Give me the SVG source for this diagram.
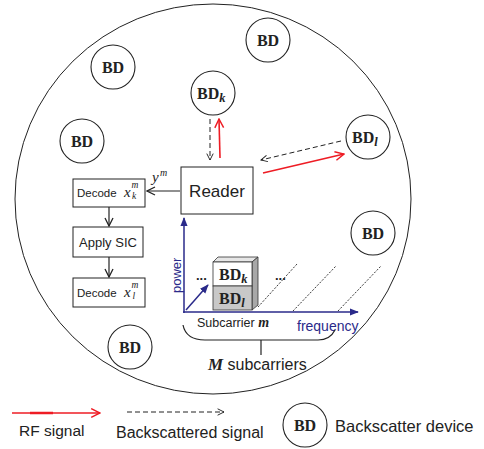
<svg xmlns="http://www.w3.org/2000/svg" width="484" height="449" viewBox="0 0 484 449">
<defs>
<style>
.bd{fill:#fff;stroke:#222;stroke-width:1.1}
.bdt{font-family:"Liberation Serif",serif;font-weight:bold;font-size:16px;fill:#222}
.sub{font-family:"Liberation Serif",serif;font-weight:bold;font-style:italic;font-size:12.5px;fill:#222}
.box{fill:#fff;stroke:#222;stroke-width:1}
.sans{font-family:"Liberation Sans",Arial,sans-serif;fill:#222}
.mi{font-family:"Liberation Serif",serif;font-style:italic;fill:#222}
.blk{stroke:#222;stroke-width:1.2;fill:none}
.dash{stroke:#222;stroke-width:1;fill:none;stroke-dasharray:5,3}
.red{stroke:#ee1c24;stroke-width:1.6;fill:none}
.blue{stroke:#2a2a8a;stroke-width:1.5;fill:none}
.dot{stroke:#222;stroke-width:0.9;fill:none;stroke-dasharray:2,1.5}
</style>
<marker id="ak" viewBox="0 0 10 10" refX="9" refY="5" markerWidth="10" markerHeight="10" markerUnits="userSpaceOnUse" orient="auto"><path d="M1,1 L9,5 L1,9" fill="none" stroke="#222" stroke-width="1.3"/></marker>
<marker id="ad" viewBox="0 0 10 10" refX="9" refY="5" markerWidth="8" markerHeight="8" markerUnits="userSpaceOnUse" orient="auto"><path d="M1,1 L9,5 L1,9" fill="none" stroke="#222" stroke-width="1.2"/></marker>
<marker id="ar" viewBox="0 0 10 10" refX="9" refY="5" markerWidth="11" markerHeight="11" markerUnits="userSpaceOnUse" orient="auto"><path d="M1,1 L9,5 L1,9" fill="none" stroke="#ee1c24" stroke-width="1.3"/></marker>
<marker id="ab" viewBox="0 0 10 10" refX="9" refY="5" markerWidth="9" markerHeight="9" markerUnits="userSpaceOnUse" orient="auto"><path d="M0,1 L10,5 L0,9 Z" fill="#2a2a8a"/></marker>
</defs>
<rect width="484" height="449" fill="#fff"/>

<ellipse cx="213" cy="199" rx="198" ry="195" fill="none" stroke="#222" stroke-width="1"/>

<g id="bd1"><circle class="bd" cx="113" cy="67" r="22"/><text class="bdt" x="113" y="73" text-anchor="middle">BD</text></g>
<g id="bd2"><circle class="bd" cx="268" cy="40" r="22"/><text class="bdt" x="268" y="46" text-anchor="middle">BD</text></g>
<g id="bdk"><circle class="bd" cx="213" cy="93" r="22"/><text class="bdt" x="197" y="99">BD<tspan class="sub" dy="3">k</tspan></text></g>
<g id="bdl"><circle class="bd" cx="368" cy="137" r="22"/><text class="bdt" x="352" y="143">BD<tspan class="sub" dy="3">l</tspan></text></g>
<g id="bd3"><circle class="bd" cx="82" cy="141" r="22"/><text class="bdt" x="82" y="147" text-anchor="middle">BD</text></g>
<g id="bd4"><circle class="bd" cx="373" cy="233" r="22"/><text class="bdt" x="373" y="239" text-anchor="middle">BD</text></g>
<g id="bd5"><circle class="bd" cx="130" cy="347" r="22"/><text class="bdt" x="130" y="353" text-anchor="middle">BD</text></g>

<g id="reader"><rect class="box" x="181" y="167" width="72" height="47"/><text class="sans" x="217" y="197" font-size="17" text-anchor="middle">Reader</text></g>
<g id="decodek"><rect class="box" x="73" y="179" width="72" height="28"/><text class="sans" x="77" y="197" font-size="11.5">Decode</text><text class="mi" x="124" y="197" font-size="15">x</text><text class="mi" x="131.5" y="188" font-size="9.5">m</text><text class="mi" x="132" y="199" font-size="9.5">k</text></g>
<g id="sic"><rect class="box" x="73" y="227" width="70" height="30"/><text class="sans" x="108" y="246.5" font-size="13" text-anchor="middle">Apply SIC</text></g>
<g id="decodel"><rect class="box" x="73" y="278" width="72" height="29"/><text class="sans" x="77" y="297" font-size="11.5">Decode</text><text class="mi" x="124" y="297" font-size="15">x</text><text class="mi" x="131.5" y="288" font-size="9.5">m</text><text class="mi" x="132.5" y="299" font-size="9.5">l</text></g>

<g id="ylabel"><text class="mi" x="152" y="182" font-size="15">y</text><text class="mi" x="160" y="176" font-size="10">m</text></g>

<g id="connectors">
<line class="blk" x1="180" y1="191" x2="147" y2="191" marker-end="url(#ak)"/>
<line class="blk" x1="109" y1="207" x2="109" y2="226" marker-end="url(#ak)"/>
<line class="blk" x1="109" y1="257" x2="109" y2="277" marker-end="url(#ak)"/>
<line class="dash" x1="210" y1="119" x2="210" y2="160" marker-end="url(#ad)"/>
<line class="red" x1="220" y1="158" x2="219" y2="119" marker-end="url(#ar)"/>
<line class="dash" x1="341" y1="141" x2="261" y2="160" marker-end="url(#ad)"/>
<line class="red" x1="263" y1="173" x2="344" y2="154" marker-end="url(#ar)"/>
</g>

<g id="chart">
<line class="blue" x1="184" y1="313" x2="184" y2="218" marker-end="url(#ab)"/>
<line class="blue" x1="183" y1="312" x2="358" y2="312" marker-end="url(#ab)"/>
<line class="blue" stroke-width="1.2" x1="186" y1="310" x2="208" y2="285" marker-end="url(#ab)"/>
<text x="0" y="0" font-family="Liberation Sans, Arial, sans-serif" font-size="13" fill="#2a2a8a" transform="translate(181,293) rotate(-90)">power</text>
<line class="dot" x1="258" y1="307" x2="297" y2="264"/>
<line class="dot" x1="293" y1="311" x2="336" y2="266"/>
<line class="dot" x1="338" y1="311" x2="381" y2="266"/>
<g id="cube">
<polygon points="213,262 218,257 258,257 252,262" fill="#e6e6e6" stroke="#333" stroke-width="0.8"/>
<polygon points="252,262 258,257 258,305 252,310" fill="#a8a8a8" stroke="#333" stroke-width="0.8"/>
<rect x="213" y="262" width="39" height="24" fill="#fff" stroke="#333" stroke-width="0.8"/>
<rect x="213" y="286" width="39" height="24" fill="#c8c8c8" stroke="#333" stroke-width="0.8"/>
<text class="bdt" x="219" y="280" font-size="15">BD<tspan class="sub" dy="3">k</tspan></text>
<text class="bdt" x="219" y="304" font-size="15">BD<tspan class="sub" dy="3">l</tspan></text>
</g>
<text class="sans" x="196" y="280" font-size="13" font-weight="bold">...</text>
<text class="sans" x="275" y="280" font-size="13" font-weight="bold">...</text>
<text class="sans" x="197" y="327" font-size="12.5">Subcarrier <tspan class="mi" font-weight="bold" font-size="14">m</tspan></text>
<text x="297" y="331" font-family="Liberation Sans, Arial, sans-serif" font-size="14" fill="#2a2a8a">frequency</text>
<path class="blk" stroke-width="1" d="M183,325 Q186,340 205,340 L318,340 Q330,340 335,330"/>
<line class="blk" stroke-width="1" x1="261" y1="340" x2="261" y2="355"/>
<text class="sans" x="208" y="370" font-size="16"><tspan class="mi" font-weight="bold" font-size="17">M</tspan> subcarriers</text>
</g>

<g id="legend">
<line class="red" x1="12" y1="413" x2="100" y2="413" marker-end="url(#ar)"/>
<line stroke="#ee1c24" stroke-width="2.5" x1="30" y1="413" x2="53" y2="413"/>
<text class="sans" x="19" y="436" font-size="15.5">RF signal</text>
<line class="dash" x1="127" y1="412" x2="224" y2="412" marker-end="url(#ad)"/>
<text class="sans" x="116" y="438" font-size="16">Backscattered signal</text>
<circle class="bd" cx="305" cy="425" r="22"/><text class="bdt" x="305" y="431" text-anchor="middle">BD</text>
<text class="sans" x="335" y="432" font-size="16.5">Backscatter device</text>
</g>
</svg>
